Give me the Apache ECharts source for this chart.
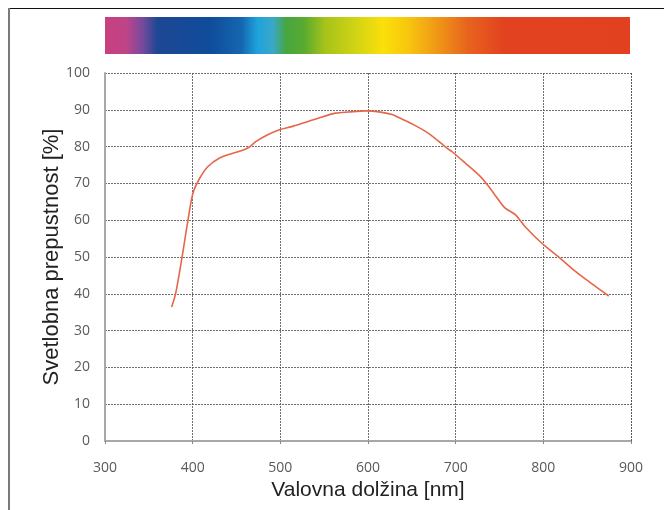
<!DOCTYPE html>
<html>
<head>
<meta charset="utf-8">
<script src="https://cdn.jsdelivr.net/npm/echarts@6/dist/echarts.min.js"></script>
<style>
html,body{margin:0;padding:0;background:#fff;}
#c{width:664px;height:510px;}
</style>
</head>
<body>
<div id="c"></div>
<script>
// Data
const wavelengths = [376, 380.7, 388, 394.7, 400.4, 408, 417.5, 430.7, 445.8, 457, 464.8, 472.4, 485.6, 498.9, 514, 529, 544, 563, 578, 597, 616, 627.5, 635, 650, 669, 690, 696, 711, 728, 737.5, 749, 756.5, 768, 779, 798, 817, 832, 847, 862.5, 874.6];
const transmission = [36.4, 40.2, 50.1, 60.1, 67.4, 71.4, 74.6, 76.9, 78.2, 79.0, 79.9, 81.4, 83.2, 84.6, 85.5, 86.6, 87.8, 89.1, 89.4, 89.7, 89.3, 88.7, 87.9, 86.2, 83.6, 79.6, 78.6, 75.5, 71.9, 69.2, 65.5, 63.3, 61.5, 58.3, 53.8, 50.1, 47.0, 44.2, 41.5, 39.4];
const xRange = [300, 900];
const yRange = [0, 100];
const xTitle = 'Valovna dolžina [nm]';
const yTitle = 'Svetlobna prepustnost [%]';
// spectrum band: wavelength span and colour stops
const spectrumSpan = [[300, 900]];
const spectrumStops = [
  [0.00, '#c8407e'], [0.04, '#c04488'], [0.07, '#7a4a9c'], [0.10, '#1d4794'],
  [0.20, '#0f4c9a'], [0.26, '#1566b0'], [0.29, '#1ea2dc'], [0.32, '#3aa8c8'],
  [0.345, '#46a640'], [0.38, '#5aab2e'], [0.42, '#a7c31a'], [0.48, '#d3d414'],
  [0.53, '#fbe00a'], [0.58, '#f7c40e'], [0.63, '#f09a16'], [0.69, '#e8641e'],
  [0.76, '#e2421f'], [1.00, '#e2411f']
];

const chart = echarts.init(document.getElementById('c'), null, {renderer: 'canvas'});
const gridDash = {color: '#555', type: [2, 1], width: 1, opacity: 0.85};

chart.setOption({
  backgroundColor: '#fff',
  animation: false,
  graphic: [
    {type: 'line', shape: {x1: 8, y1: 8.5, x2: 664, y2: 8.5}, style: {stroke: '#111', lineWidth: 1}},
    {type: 'line', shape: {x1: 9, y1: 8, x2: 9, y2: 510}, style: {stroke: '#7a7a7a', lineWidth: 2}}
  ],
  grid: [
    {left: 105, right: 33, top: 73, bottom: 69},
    {left: 105, right: 34, top: 17, height: 37}
  ],
  xAxis: [
    {
      type: 'value', gridIndex: 0, min: xRange[0], max: xRange[1], interval: 100,
      name: xTitle, nameLocation: 'middle', nameGap: 39, nameMoveOverlap: false,
      nameTextStyle: {fontFamily: 'Liberation Sans', fontSize: 21, color: '#222'},
      axisLine: {show: true, lineStyle: {color: '#a8a8a8', width: 2}},
      axisTick: {show: true, length: 3, lineStyle: {color: '#888'}},
      axisLabel: {margin: 20, fontFamily: 'Open Sans', fontSize: 14, color: '#5a5a5a'},
      splitLine: {show: true, lineStyle: gridDash}
    },
    {type: 'value', gridIndex: 1, min: xRange[0], max: xRange[1], show: false}
  ],
  yAxis: [
    {
      type: 'value', gridIndex: 0, min: yRange[0], max: yRange[1], interval: 10,
      name: yTitle, nameLocation: 'middle', nameGap: 42, nameMoveOverlap: false,
      nameTextStyle: {fontFamily: 'Liberation Sans', fontSize: 22, color: '#222'},
      axisLine: {show: true, lineStyle: {color: '#a8a8a8', width: 2}},
      axisTick: {show: false},
      axisLabel: {margin: 15, fontFamily: 'Open Sans', fontSize: 14, color: '#5a5a5a'},
      splitLine: {show: true, lineStyle: gridDash}
    },
    {type: 'value', gridIndex: 1, min: 0, max: 1, show: false}
  ],
  series: [
    {
      type: 'line', xAxisIndex: 0, yAxisIndex: 0,
      data: wavelengths.map((w, i) => [w, transmission[i]]),
      smooth: 0.3, showSymbol: false,
      lineStyle: {color: '#e5664a', width: 1.6}
    },
    {
      type: 'custom', xAxisIndex: 1, yAxisIndex: 1, silent: true,
      data: spectrumSpan,
      renderItem: function (params, api) {
        const p0 = api.coord([api.value(0), 1]);
        const p1 = api.coord([api.value(1), 0]);
        return {
          type: 'rect',
          shape: {x: p0[0], y: p0[1], width: p1[0] - p0[0], height: p1[1] - p0[1]},
          style: {
            fill: new echarts.graphic.LinearGradient(0, 0, 1, 0,
              spectrumStops.map(s => ({offset: s[0], color: s[1]})))
          }
        };
      }
    },
    {
      type: 'line', xAxisIndex: 0, yAxisIndex: 0, data: [], silent: true,
      markLine: {
        silent: true, symbol: 'none', label: {show: false},
        lineStyle: gridDash,
        data: [{xAxis: xRange[1]}]
      }
    }
  ]
});
</script>
</body>
</html>
